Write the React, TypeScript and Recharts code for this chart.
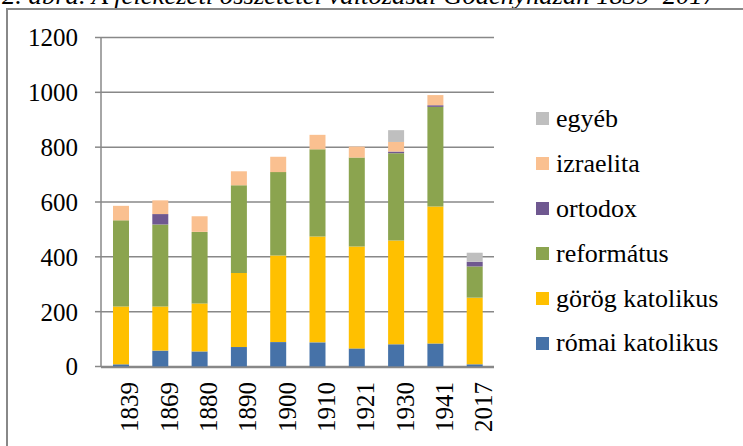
import React from 'react';
import { BarChart, Bar, XAxis, YAxis, CartesianGrid } from 'recharts';

const years = ['1839', '1869', '1880', '1890', '1900', '1910', '1921', '1930', '1941', '2017'];
const romaiKatolikus = [8, 58, 55, 71, 89, 88, 66, 81, 84, 8];
const gorogKatolikus = [211, 161, 175, 270, 316, 386, 372, 379, 500, 243];
const reformatus = [314, 299, 261, 320, 304, 318, 324, 318, 363, 114];
const ortodox = [0, 38, 0, 0, 0, 0, 0, 6, 6, 17];
const izraelita = [53, 50, 57, 51, 56, 53, 40, 35, 37, 0];
const egyeb = [0, 0, 0, 0, 0, 0, 0, 43, 0, 33];
const yTicks = [0, 200, 400, 600, 800, 1000, 1200];
const edgeTicks = [0, 1, 2, 3, 4, 5, 6, 7, 8, 9, 10];
const titleText = '2. ábra. A felekezeti összetétel változásai Gödényházán 1839–2017';

const series = [
  { id: 'romai', name: 'római katolikus', values: romaiKatolikus, color: '#4672A8' },
  { id: 'gorog', name: 'görög katolikus', values: gorogKatolikus, color: '#FFC000' },
  { id: 'reform', name: 'református', values: reformatus, color: '#8BA44F' },
  { id: 'ortodox', name: 'ortodox', values: ortodox, color: '#6F5890' },
  { id: 'izrael', name: 'izraelita', values: izraelita, color: '#FAC090' },
  { id: 'egyeb', name: 'egyéb', values: egyeb, color: '#BFBFBF' },
];

const data = years.map((y, i) => {
  const row: Record<string, string | number> = { year: y };
  series.forEach((s) => {
    row[s.id] = s.values[i];
  });
  return row;
});

const FONT = '"Liberation Serif", "Times New Roman", serif';
const GRID = '#888888';

export default function App() {
  return (
    <div style={{ position: 'absolute', left: 0, top: 0, width: 743, height: 446, overflow: 'hidden', background: '#fff' }}>
      <svg width={743} height={20} style={{ position: 'absolute', left: 0, top: 0 }}>
        <text x={2} y={4} fontSize={25} fontStyle="italic" fontFamily={FONT} fill="#000" textLength={714} lengthAdjust="spacingAndGlyphs">
          {titleText}
        </text>
      </svg>
      <div
        style={{
          position: 'absolute',
          left: 6,
          top: 8,
          width: 760,
          height: 460,
          borderLeft: `2px solid ${GRID}`,
          borderTop: `2px solid ${GRID}`,
          boxSizing: 'border-box',
        }}
      />
      <div style={{ position: 'absolute', left: 0, top: 0 }}>
        <BarChart
          width={743}
          height={446}
          data={data}
          margin={{ top: 37.5, right: 249, bottom: 77.5, left: 8 }}
          barSize={16}
        >
          <CartesianGrid vertical={false} stroke={GRID} strokeWidth={1.5} xAxisId="cat" />
          <XAxis
            xAxisId="edges"
            type="number"
            domain={[0, 10]}
            ticks={edgeTicks}
            allowDataOverflow
            height={1}
            tick={false}
            tickSize={7}
            axisLine={{ stroke: GRID, strokeWidth: 1.5 }}
            tickLine={{ stroke: GRID, strokeWidth: 1.5 }}
          />
          <XAxis
            xAxisId="cat"
            dataKey="year"
            height={1}
            axisLine={false}
            tickLine={false}
            tickSize={6}
            tickMargin={9.5}
            interval={0}
            angle={-90}
            tick={{ fontSize: 25, fontFamily: FONT, fill: '#000', textAnchor: 'end', verticalAnchor: 'middle' }}
          />
          <YAxis
            domain={[0, 1200]}
            ticks={yTicks}
            width={93}
            tickSize={6}
            tickMargin={17}
            axisLine={{ stroke: GRID, strokeWidth: 1.5 }}
            tickLine={{ stroke: GRID, strokeWidth: 1.5 }}
            tick={{ fontSize: 25, fontFamily: FONT, fill: '#000' }}
          />
          {series.map((s) => (
            <Bar key={s.id} xAxisId="cat" dataKey={s.id} name={s.name} stackId="a" fill={s.color} isAnimationActive={false} />
          ))}
        </BarChart>
      </div>
      <div style={{ position: 'absolute', left: 536, top: 96.5, fontFamily: FONT, fontSize: 26, color: '#000' }}>
        {[...series].reverse().map((s) => (
          <div key={s.id} style={{ display: 'flex', alignItems: 'center', height: 44.9 }}>
            <div style={{ width: 13, height: 13, background: s.color, marginRight: 7, flexShrink: 0 }} />
            <span style={{ lineHeight: '26px', whiteSpace: 'nowrap' }}>{s.name}</span>
          </div>
        ))}
      </div>
    </div>
  );
}
